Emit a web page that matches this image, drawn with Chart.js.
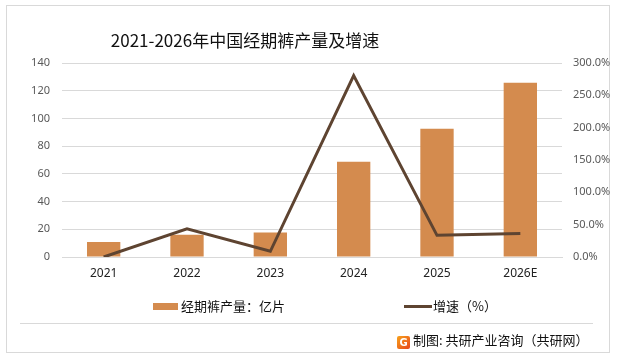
<!DOCTYPE html>
<html>
<head>
<meta charset="utf-8">
<script src="https://cdn.jsdelivr.net/npm/chart.js@4.4.1/dist/chart.umd.min.js"></script>
<style>
  html, body { margin: 0; padding: 0; background: #fff; }
  body { width: 617px; height: 360px; position: relative; overflow: hidden; font-family: "Noto Sans CJK SC", "Noto Sans", sans-serif; }
  #frame { position: absolute; left: 6px; top: 5px; width: 604px; height: 348px; border: 1px solid #d9d9d9; box-sizing: border-box; }
  #wrap { position: absolute; left: 0; top: 0; width: 617px; height: 360px; }
  #title { position: absolute; left: 0; width: 490px; top: 27px; text-align: center; font-size: 17px; color: #111; white-space: nowrap; }
  .leg { position: absolute; top: 297px; font-size: 13px; color: #111; white-space: nowrap; line-height: 18px; }
  .sw { display: inline-block; vertical-align: middle; }
  #sep { position: absolute; left: 20px; top: 323px; width: 573px; height: 1px; background: #d9d9d9; }
  #foot { position: absolute; left: 397px; top: 331px; font-size: 13px; color: #111; white-space: nowrap; line-height: 18px; }
  #logo { display: inline-block; width: 13px; height: 13px; border-radius: 2px; background: linear-gradient(135deg, #f7a21b, #e8461d); color: #fff; font: bold 10px/13px "DejaVu Sans", sans-serif; text-align: center; vertical-align: -1px; margin-right: 3px; }
</style>
</head>
<body>
<div id="frame"></div>
<div id="wrap"><canvas id="c" width="617" height="360"></canvas></div>
<div id="title">2021-2026年中国经期裤产量及增速</div>
<div class="leg" style="left:153px"><span class="sw" style="width:25px;height:7px;background:#D48B4E;margin-right:3px;vertical-align:1px"></span>经期裤产量：亿片</div>
<div class="leg" style="left:404px"><span class="sw" style="width:28px;height:3px;background:#5E4431;margin-right:1px;vertical-align:3px"></span>增速（%）</div>
<div id="sep"></div>
<div id="foot"><span id="logo">G</span>制图: 共研产业咨询（共研网）</div>
<script>
const categories = ["2021", "2022", "2023", "2024", "2025", "2026E"];
const outputValues = [10.8, 16.1, 17.6, 68.8, 92.6, 125.8];   // 亿片
const growthValues = [0, 43.7, 8.8, 280.5, 33.5, 36.2];         // %
const leftTicks = { min: 0, max: 140, step: 20 };
const rightTicks = { min: 0, max: 300, step: 50 };

const barColor = '#D48B4E';
const lineColor = '#5E4431';
const gridColor = '#d9d9d9';

new Chart(document.getElementById('c'), {
  data: {
    labels: categories,
    datasets: [
      {
        type: 'line', label: '增速（%）', data: growthValues, yAxisID: 'y1',
        borderColor: lineColor, backgroundColor: lineColor, borderWidth: 3,
        pointRadius: 0, tension: 0, order: 0
      },
      {
        type: 'bar', label: '经期裤产量：亿片', data: outputValues, yAxisID: 'y',
        backgroundColor: barColor, barPercentage: 0.4, categoryPercentage: 1.0, order: 1
      }
    ]
  },
  options: {
    responsive: false,
    animation: false,
    events: [],
    layout: { padding: { left: 0, right: 0, top: 63, bottom: 0 } },
    plugins: { legend: { display: false }, title: { display: false }, tooltip: { enabled: false } },
    scales: {
      x: {
        grid: { display: false, drawTicks: false },
        border: { display: true, color: gridColor, width: 1 },
        ticks: { color: '#222', font: { family: 'Noto Sans', size: 12 }, padding: 9, maxRotation: 0 },
        afterFit: s => { s.height = 103; }
      },
      y: {
        position: 'left', min: leftTicks.min, max: leftTicks.max,
        grid: { color: gridColor, drawTicks: false, lineWidth: 1 },
        border: { display: false },
        ticks: { stepSize: leftTicks.step, color: '#595959', font: { family: 'Noto Sans', size: 11 }, padding: 12 },
        afterFit: s => { s.width = 62; }
      },
      y1: {
        position: 'right', min: rightTicks.min, max: rightTicks.max,
        grid: { display: false, drawTicks: false },
        border: { display: false },
        ticks: { stepSize: rightTicks.step, color: '#595959', font: { family: 'Noto Sans', size: 11 }, padding: 11,
                 callback: v => v.toFixed(1) + '%' },
        afterFit: s => { s.width = 55; }
      }
    }
  }
});
</script>
</body>
</html>
